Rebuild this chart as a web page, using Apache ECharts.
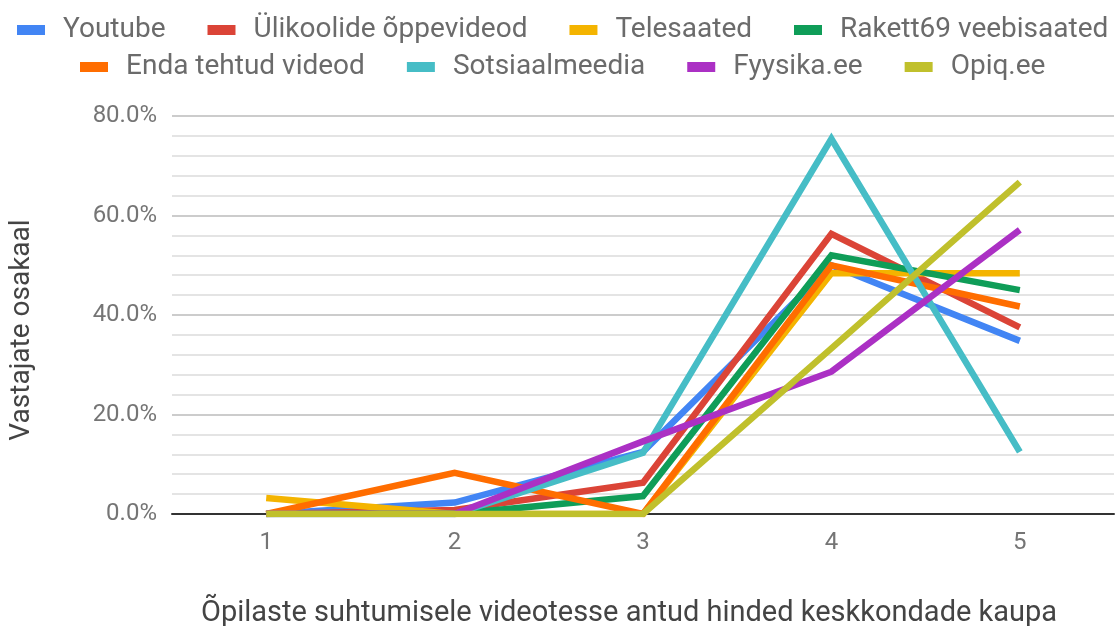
<!DOCTYPE html>
<html>
<head>
<meta charset="utf-8">
<script src="https://cdn.jsdelivr.net/npm/echarts@6/dist/echarts.min.js"></script>
<style>
  html, body { margin: 0; padding: 0; background: #fff; }
  #chart { width: 1115px; height: 626px; }
</style>
</head>
<body>
<div id="chart"></div>
<script>
// hinded 1..5
const categories = ['1', '2', '3', '4', '5']

// osakaal protsentides
const youtube = [0, 2.3, 12.5, 50.0, 34.8]
const ylikoolid = [0, 0.8, 6.3, 56.3, 37.5]
const telesaated = [3.2, 0, 0, 48.4, 48.4]
const rakett69 = [0, 0, 3.6, 52.0, 45.0]
const endaVideod = [0, 8.3, 0, 50.0, 41.7]
const sotsiaalmeedia = [0, 0, 12.3, 75.4, 12.5]
const fyysika = [0, 0, 14.6, 28.6, 57.1]
const opiq = [0, 0, 0, 33.3, 66.7]

const yTicks = [0, 20, 40, 60, 80]

const seriesDefs = [
  { name: 'Youtube', data: youtube, color: '#4285F4' },
  { name: 'Ülikoolide õppevideod', data: ylikoolid, color: '#DB4437' },
  { name: 'Telesaated', data: telesaated, color: '#F4B400' },
  { name: 'Rakett69 veebisaated', data: rakett69, color: '#0F9D58' },
  { name: 'Enda tehtud videod', data: endaVideod, color: '#FF6D00' },
  { name: 'Sotsiaalmeedia', data: sotsiaalmeedia, color: '#46BDC6' },
  { name: 'Fyysika.ee', data: fyysika, color: '#AB30C4' },
  { name: 'Opiq.ee', data: opiq, color: '#C0C02C' },
]

const chart = echarts.init(document.getElementById('chart'))

const legendBase = {
  icon: 'rect',
  itemWidth: 28,
  itemHeight: 10,
  itemGap: 42,
  padding: 0,
  textStyle: { color: '#6b6b6b', fontSize: 28, fontFamily: 'Roboto', padding: [0, 0, 0, 13] },
}

chart.setOption({
  animation: false,
  textStyle: { fontFamily: 'Roboto' },
  legend: [
    { ...legendBase, left: 17, top: 16, data: seriesDefs.slice(0, 4).map((s) => s.name) },
    { ...legendBase, left: 80, top: 53, data: seriesDefs.slice(4).map((s) => s.name) },
  ],
  grid: { left: 172, right: 1, top: 116, bottom: 112, outerBoundsMode: 'none' },
  xAxis: {
    type: 'category',
    data: categories,
    boundaryGap: true,
    name: 'Õpilaste suhtumisele videotesse antud hinded keskkondade kaupa',
    nameLocation: 'middle',
    nameGap: 85,
    nameTextStyle: { color: '#444', fontSize: 29, padding: [0, 28, 0, 0] },
    axisLine: { lineStyle: { color: '#333', width: 2 } },
    axisTick: { show: false },
    axisLabel: { color: '#757575', fontSize: 24, margin: 17 },
  },
  yAxis: {
    type: 'value',
    min: yTicks[0],
    max: yTicks[yTicks.length - 1],
    interval: 20,
    name: 'Vastajate osakaal',
    nameLocation: 'middle',
    nameGap: 136,
    nameTextStyle: { color: '#444', fontSize: 28, padding: [0, 30, 0, 0] },
    axisLine: { show: false },
    axisTick: { show: false },
    axisLabel: {
      color: '#757575',
      fontSize: 24,
      margin: 15,
      formatter: (v) => v.toFixed(1) + '%',
    },
    splitLine: { lineStyle: { color: '#cccccc', width: 2 } },
    minorTick: { show: false, splitNumber: 5 },
    minorSplitLine: { show: true, lineStyle: { color: '#e4e4e4', width: 2 } },
  },
  series: seriesDefs.map((s) => ({
    name: s.name,
    type: 'line',
    data: s.data,
    showSymbol: false,
    symbol: 'none',
    color: s.color,
    lineStyle: { width: 6.5, color: s.color, join: 'miter' },
  })),
})
</script>
</body>
</html>
